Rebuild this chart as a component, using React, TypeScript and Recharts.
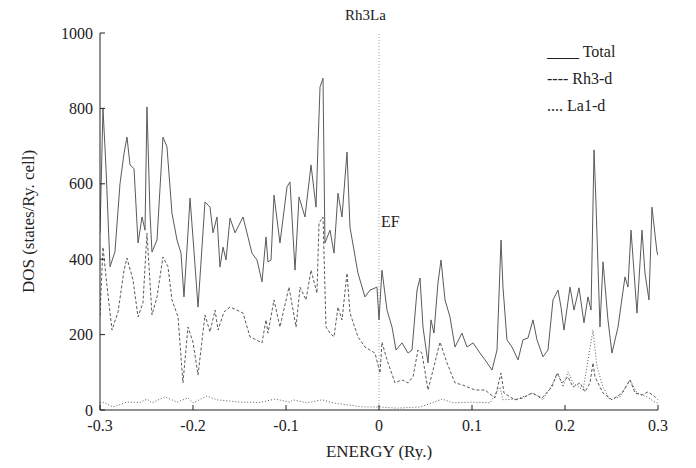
import { LineChart, Line, XAxis, YAxis, ReferenceLine, Legend } from "recharts";

// [energy (Ry), DOS] pairs
const totalDos: [number, number][] = [
  [-0.3, 470], [-0.2968, 800], [-0.2935, 640], [-0.2892, 380], [-0.2839, 420], [-0.2785, 600],
  [-0.2742, 680], [-0.271, 724], [-0.2677, 650], [-0.2634, 640], [-0.2591, 443], [-0.2548, 512],
  [-0.2516, 477], [-0.2495, 804], [-0.2462, 520], [-0.2441, 419], [-0.2387, 451], [-0.2323, 724],
  [-0.228, 698], [-0.2226, 522], [-0.2172, 451], [-0.2129, 416], [-0.2097, 300], [-0.2054, 470],
  [-0.2032, 562], [-0.1989, 420], [-0.1946, 273], [-0.1871, 552], [-0.1817, 538], [-0.1785, 470],
  [-0.1742, 512], [-0.171, 379], [-0.1677, 432], [-0.1645, 398], [-0.1602, 509], [-0.1548, 470],
  [-0.1462, 512], [-0.1366, 416], [-0.1312, 398], [-0.1258, 340], [-0.1215, 459], [-0.1194, 393],
  [-0.1161, 398], [-0.1129, 570], [-0.1065, 443], [-0.0989, 592], [-0.0957, 605], [-0.0903, 371],
  [-0.086, 565], [-0.0796, 512], [-0.0731, 650], [-0.0677, 538], [-0.0656, 703], [-0.0634, 857],
  [-0.0602, 880], [-0.0581, 443], [-0.0527, 477], [-0.0484, 416], [-0.0441, 575], [-0.0398, 512],
  [-0.0344, 684], [-0.0312, 485], [-0.0226, 363], [-0.0151, 300], [-0.0097, 318], [-0.0022, 326],
  [0.0, 239], [0.0032, 371], [0.0086, 265], [0.014, 220], [0.0183, 159], [0.0247, 178],
  [0.0312, 151], [0.0355, 159], [0.0409, 318], [0.0441, 350], [0.0473, 220], [0.0527, 125],
  [0.0559, 239], [0.0591, 204], [0.0634, 337], [0.0667, 398], [0.071, 292], [0.0763, 247],
  [0.0817, 167], [0.0892, 204], [0.0946, 167], [0.1011, 178], [0.1086, 151], [0.114, 133],
  [0.1215, 106], [0.1269, 159], [0.1312, 451], [0.1333, 326], [0.1376, 186], [0.143, 167],
  [0.1495, 133], [0.1548, 186], [0.1602, 191], [0.1656, 239], [0.1699, 186], [0.1763, 141],
  [0.1817, 159], [0.1871, 292], [0.1925, 318], [0.1957, 273], [0.1989, 212], [0.2054, 326],
  [0.2097, 265], [0.2151, 324], [0.2204, 231], [0.2247, 300], [0.228, 265], [0.2312, 690],
  [0.2333, 549], [0.2376, 220], [0.2409, 393], [0.2462, 239], [0.2505, 151], [0.257, 220],
  [0.2645, 353], [0.2677, 326], [0.271, 477], [0.2774, 257], [0.2828, 477], [0.286, 363],
  [0.2903, 292], [0.2935, 538], [0.2989, 419], [0.3, 410],
];

const rh3dDos: [number, number][] = [
  [-0.3, 250], [-0.2968, 432], [-0.2925, 330], [-0.2871, 212], [-0.2806, 260], [-0.2742, 370],
  [-0.271, 403], [-0.2645, 345], [-0.2591, 247], [-0.2538, 284], [-0.2495, 469], [-0.2441, 252],
  [-0.2387, 300], [-0.2323, 406], [-0.2269, 380], [-0.2226, 292], [-0.2161, 247], [-0.2108, 72],
  [-0.2054, 220], [-0.2, 180], [-0.1946, 93], [-0.1871, 252], [-0.1817, 207], [-0.1763, 265],
  [-0.1731, 212], [-0.1667, 260], [-0.1602, 273], [-0.1527, 265], [-0.1462, 257], [-0.1387, 194],
  [-0.1258, 178], [-0.1215, 239], [-0.1194, 204], [-0.1129, 292], [-0.1065, 220], [-0.0968, 326],
  [-0.0892, 220], [-0.0849, 326], [-0.0785, 292], [-0.0731, 371], [-0.0667, 310], [-0.0645, 496],
  [-0.0602, 512], [-0.057, 220], [-0.0527, 204], [-0.0484, 194], [-0.0441, 273], [-0.0398, 239],
  [-0.0344, 363], [-0.0312, 257], [-0.0226, 194], [-0.0151, 167], [-0.0043, 151], [0.0011, 98],
  [0.0032, 180], [0.0086, 133], [0.0172, 72], [0.0247, 80], [0.0312, 72], [0.0366, 88],
  [0.0419, 159], [0.0462, 151], [0.0527, 53], [0.0581, 106], [0.0656, 180], [0.0731, 125],
  [0.0817, 72], [0.0903, 66], [0.1032, 53], [0.114, 53], [0.1247, 32], [0.1312, 98],
  [0.1344, 45], [0.1462, 27], [0.1548, 32], [0.1645, 45], [0.1753, 32], [0.186, 61],
  [0.1914, 98], [0.1968, 72], [0.2032, 88], [0.2086, 61], [0.2161, 72], [0.2215, 48],
  [0.2269, 72], [0.2301, 125], [0.2323, 88], [0.2376, 61], [0.2409, 45], [0.2505, 27],
  [0.2613, 45], [0.2699, 80], [0.2753, 45], [0.2828, 40], [0.2892, 48], [0.2968, 35], [0.3, 27],
];

const la1dDos: [number, number][] = [
  [-0.3, 18], [-0.2968, 21], [-0.286, 8], [-0.271, 21], [-0.257, 20], [-0.2495, 29],
  [-0.2441, 19], [-0.2301, 35], [-0.2172, 21], [-0.2054, 32], [-0.2, 19], [-0.1849, 37],
  [-0.1742, 27], [-0.1495, 21], [-0.128, 20], [-0.1118, 29], [-0.0957, 21], [-0.0925, 27],
  [-0.0774, 19], [-0.0613, 27], [-0.0495, 19], [-0.0172, 8], [0.0011, 8], [0.0194, 5],
  [0.0441, 8], [0.057, 19], [0.0677, 29], [0.0796, 19], [0.1011, 21], [0.1194, 19],
  [0.1301, 61], [0.1333, 27], [0.1484, 29], [0.1656, 45], [0.1763, 27], [0.1871, 72],
  [0.1925, 98], [0.1978, 61], [0.2032, 101], [0.2086, 72], [0.2194, 53], [0.2301, 212],
  [0.2344, 114], [0.2409, 61], [0.2484, 27], [0.2591, 35], [0.2699, 80], [0.2774, 45],
  [0.2882, 35], [0.2968, 21], [0.3, 18],
];

const xTicks = [-0.3, -0.2, -0.1, 0, 0.1, 0.2, 0.3];
const yTicks = [0, 200, 400, 600, 800, 1000];
const legendRows = ["____ Total", "---- Rh3-d", ".... La1-d"];

const toRows = (pts: [number, number][]) => pts.map(([e, v]) => ({ e, v }));

const FONT = "Liberation Serif, Tinos, Times New Roman, Times, DejaVu Serif, Noto Serif, FreeSerif, serif";
const INK = "#222";
const LINE = "#5a5a5a";

export default function App() {
  return (
    <div style={{ position: "relative", width: 680, height: 452, fontFamily: FONT }}>
      <div
        style={{
          position: "absolute",
          top: 0,
          left: 337,
          fontSize: 15,
          color: INK,
          lineHeight: "15px",
        }}
      >
        Rh3La
      </div>
      <LineChart width={680} height={452} margin={{ top: 25, right: 30, left: 0, bottom: 0 }}>
        <XAxis
          dataKey="e"
          type="number"
          domain={[-0.3, 0.3]}
          ticks={xTicks}
          allowDataOverflow
          height={50}
          stroke={INK}
          tickSize={-5}
          tickMargin={15}
          tick={{ fill: INK, fontSize: 16, fontFamily: FONT }}
          tickFormatter={(v: number) => (v === 0 ? "0" : String(v))}
          label={(props: any) => {
            const vb = props.viewBox;
            return (
              <text x={vb.x + vb.width / 2} y={vb.y + 47} textAnchor="middle" fontSize={17} fontFamily={FONT} fill={INK}>
                ENERGY (Ry.)
              </text>
            );
          }}
        />
        <XAxis
          xAxisId="t"
          orientation="top"
          dataKey="e"
          type="number"
          domain={[-0.3, 0.3]}
          ticks={xTicks}
          allowDataOverflow
          height={0}
          stroke={INK}
          tickSize={-5}
          tick={false}
        />
        <YAxis
          type="number"
          domain={[0, 1000]}
          ticks={yTicks}
          allowDataOverflow
          width={92}
          stroke={INK}
          tickSize={-5}
          tickMargin={12}
          tick={{ fill: INK, fontSize: 16, fontFamily: FONT }}
          label={(props: any) => {
            const vb = props.viewBox;
            const cx = 22;
            const cy = vb.y + vb.height / 2;
            return (
              <text
                x={cx}
                y={cy}
                transform={`rotate(-90 ${cx} ${cy})`}
                textAnchor="middle"
                dominantBaseline="middle"
                fontSize={17}
                fontFamily={FONT}
                fill={INK}
              >
                DOS (states/Ry. cell)
              </text>
            );
          }}
        />
        <YAxis
          yAxisId="r"
          orientation="right"
          type="number"
          domain={[0, 1000]}
          ticks={yTicks}
          allowDataOverflow
          width={0}
          stroke={INK}
          tickSize={-5}
          tick={false}
        />
        <ReferenceLine
          x={0}
          stroke="#888"
          strokeWidth={0.8}
          strokeDasharray="1 2"
          label={{ value: "EF", position: "right", offset: 2, fontSize: 16, fontFamily: FONT, fill: INK }}
        />
        <Line
          data={toRows(la1dDos)}
          dataKey="v"
          type="linear"
          stroke={LINE}
          strokeWidth={1}
          strokeDasharray="1 2"
          dot={false}
          isAnimationActive={false}
        />
        <Line
          data={toRows(rh3dDos)}
          dataKey="v"
          type="linear"
          stroke={LINE}
          strokeWidth={1}
          strokeDasharray="3 2"
          dot={false}
          isAnimationActive={false}
        />
        <Line
          data={toRows(totalDos)}
          dataKey="v"
          type="linear"
          stroke={LINE}
          strokeWidth={1}
          dot={false}
          isAnimationActive={false}
        />
        <Legend
          layout="horizontal"
          verticalAlign="middle"
          align="center"
          wrapperStyle={{ position: "absolute", left: 539, top: 30, width: 120, height: 90 }}
          content={() => (
            <div style={{ fontFamily: FONT, fontSize: 16, color: INK, lineHeight: "27px" }}>
              {legendRows.map((r) => (
                <div key={r} style={{ whiteSpace: "pre" }}>
                  {r}
                </div>
              ))}
            </div>
          )}
        />
      </LineChart>
    </div>
  );
}
